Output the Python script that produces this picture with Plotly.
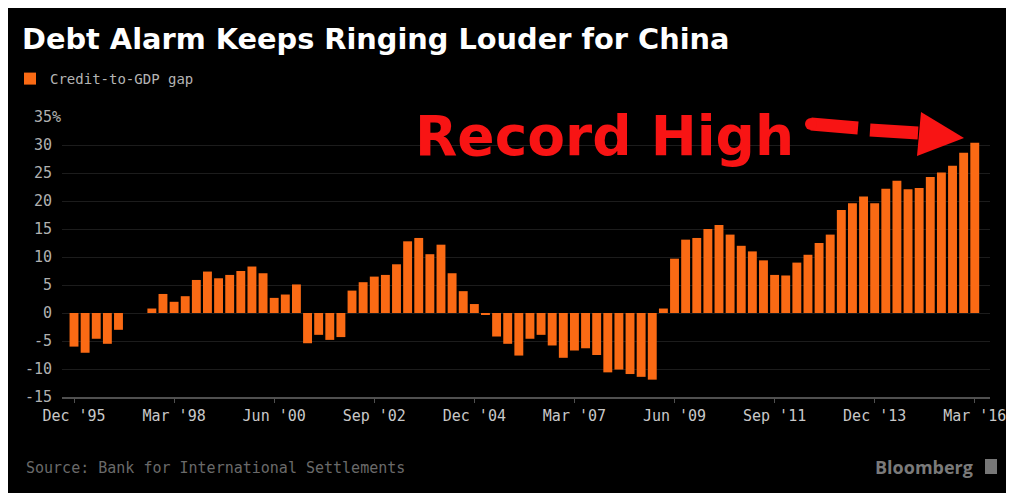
import plotly.graph_objects as go

# ---------------- data ----------------
months = ["Mar", "Jun", "Sep", "Dec"]
quarters = ["Dec '95"] + [f"{m} '{y % 100:02d}" for y in range(1996, 2016) for m in months] + ["Mar '16"]

credit_gap = [
    -6.0, -7.1, -4.6, -5.5, -3.0, 0.0, 0.0, 0.8, 3.4, 2.0,
    3.0, 5.9, 7.4, 6.2, 6.8, 7.5, 8.3, 7.1, 2.7, 3.3,
    5.1, -5.4, -3.9, -4.8, -4.3, 4.0, 5.5, 6.5, 6.8, 8.7,
    12.8, 13.4, 10.5, 12.2, 7.1, 3.9, 1.6, -0.2, -4.2, -5.5,
    -7.6, -4.6, -3.9, -5.8, -8.0, -6.7, -6.3, -7.5, -10.6, -10.1,
    -10.9, -11.4, -11.9, 0.8, 9.7, 13.1, 13.4, 15.0, 15.7, 14.0,
    12.0, 11.0, 9.4, 6.8, 6.7, 9.0, 10.4, 12.5, 14.0, 18.4,
    19.6, 20.8, 19.6, 22.2, 23.6, 22.1, 22.3, 24.3, 25.1, 26.3,
    28.6, 30.4,
]

x_tick_labels = ["Dec '95", "Mar '98", "Jun '00", "Sep '02", "Dec '04",
                 "Mar '07", "Jun '09", "Sep '11", "Dec '13", "Mar '16"]
y_tick_vals = [-15, -10, -5, 0, 5, 10, 15, 20, 25, 30, 35]
y_tick_text = ["-15\u00a0", "-10\u00a0", "-5\u00a0", "0\u00a0", "5\u00a0", "10\u00a0",
               "15\u00a0", "20\u00a0", "25\u00a0", "30\u00a0", "35%"]

# ---------------- layout helpers (page pixel -> paper / container) ----------------
OFF = 8                      # page body margin
W, H = 1014 - OFF, 493 - OFF
L, R, T, B = 62 - OFF, 990 - OFF, 117 - OFF, 397 - OFF


def px(xp):
    return (xp - OFF - L) / (R - L)


def py(yp):
    return (B - (yp - OFF)) / (B - T)


def cx(xp):
    return (xp - OFF) / W


def cy(yp):
    return 1 - (yp - OFF) / H


MONO = "DejaVu Sans Mono"
ORANGE = "#fa6a14"
RED = "#f81414"

fig = go.Figure()
fig.add_trace(go.Bar(
    x=quarters, y=credit_gap, name="Credit-to-GDP gap",
    marker=dict(color=ORANGE, line=dict(width=0)), width=0.8,
))

shapes = [
    # dashed arrow
    dict(type="line", xref="paper", yref="paper", x0=px(811), y0=py(124), x1=px(858), y1=py(128),
         line=dict(color=RED, width=13)),
    dict(type="circle", xref="paper", yref="paper", x0=px(805), x1=px(817), y0=py(118), y1=py(130),
         fillcolor=RED, line=dict(width=0)),
    dict(type="line", xref="paper", yref="paper", x0=px(870), y0=py(130), x1=px(918), y1=py(133),
         line=dict(color=RED, width=13)),
    dict(type="path", xref="paper", yref="paper",
         path=f"M {px(921)},{py(112)} L {px(917)},{py(156)} L {px(964)},{py(138)} Z",
         fillcolor=RED, line=dict(width=0)),
    # Bloomberg icon
    dict(type="rect", xref="paper", yref="paper", x0=px(985), x1=px(997), y0=py(474), y1=py(459),
         fillcolor="#777777", line=dict(width=0)),
]

annotations = [
    dict(text="<b>Record High</b>", xref="paper", yref="paper", x=px(604), y=py(136),
         xanchor="center", yanchor="middle", showarrow=False,
         font=dict(family="DejaVu Sans", size=55, color=RED)),
    dict(text="Source: Bank for International Settlements", xref="paper", yref="paper",
         x=px(24), y=py(468), xanchor="left", yanchor="middle", showarrow=False,
         font=dict(family=MONO, size=15, color="#6a6a6a")),
    dict(text="<b>Bloomberg</b>", xref="paper", yref="paper",
         x=px(975), y=py(467), xanchor="right", yanchor="middle", showarrow=False,
         font=dict(family="Open Sans", size=18, color="#7a7a7a")),
]

fig.update_layout(
    width=W, height=H,
    margin=dict(l=L, r=W - R, t=T, b=H - B, pad=0, autoexpand=False),
    paper_bgcolor="black", plot_bgcolor="black",
    title=dict(text="<b>Debt Alarm Keeps Ringing Louder for China</b>",
               xref="container", yref="container", x=cx(22), y=cy(39),
               xanchor="left", yanchor="middle",
               font=dict(family="DejaVu Sans", size=28.8, color="white")),
    showlegend=True,
    legend=dict(orientation="h", xref="container", yref="container", x=cx(10), y=cy(79),
                xanchor="left", yanchor="middle",
                bgcolor="rgba(0,0,0,0)", font=dict(family=MONO, size=14, color="#b4b4b4"),
                itemwidth=30),
    shapes=shapes,
    annotations=annotations,
    xaxis=dict(type="category", range=[-1.08, 82.37], tickmode="array",
               tickvals=x_tick_labels, ticktext=x_tick_labels, automargin=False,
               showgrid=False, showline=True, linecolor="#505050", linewidth=2,
               ticks="outside", ticklen=4, tickcolor="#505050", tickwidth=1,
               tickfont=dict(family=MONO, size=15, color="#c8c8c8"), fixedrange=True),
    yaxis=dict(range=[-15, 35], tickmode="array", tickvals=y_tick_vals, ticktext=y_tick_text,
               showgrid=True, gridcolor="#1c1c1c", gridwidth=1, zeroline=False, showline=False,
               ticks="", ticklabelstandoff=0, automargin=False,
               tickfont=dict(family=MONO, size=15, color="#b0b0b0"), fixedrange=True),
)

fig.write_html(
    "out.html",
    post_script="document.documentElement.style.overflow='hidden';"
                "document.body.style.overflow='hidden';",
)
